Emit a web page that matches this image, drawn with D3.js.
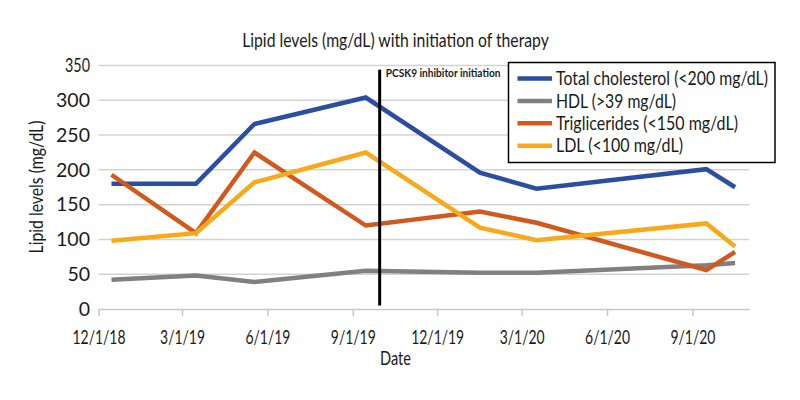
<!DOCTYPE html>
<html><head><meta charset="utf-8">
<script src="https://cdn.jsdelivr.net/npm/d3@7"></script>
<style>
body{margin:0;background:#fff;}
text{font-family:Lato,"Noto Sans",sans-serif;fill:#1a1a1a;}
</style></head>
<body><svg id="c" width="800" height="400"></svg>
<script>
const dates = ["2018-12-15","2019-03-16","2019-05-18","2019-09-15","2020-01-16","2020-03-17","2020-09-16","2020-10-17"];
const totalChol = [180, 180, 266, 304, 196, 173, 201, 175];
const hdl = [42, 48, 39, 55, 52, 52, 63, 66];
const trig = [193, 109, 225, 120, 140, 124, 56, 82];
const ldl = [98, 109, 182, 225, 117, 99, 123, 90];
const seriesNames = ["Total cholesterol (<200 mg/dL)","HDL (>39 mg/dL)","Triglicerides (<150 mg/dL)","LDL (<100 mg/dL)"];
const seriesColors = ["#2b4da2","#808080","#d2591e","#f9a819"];
const xTicks = ["2018-12-01","2019-03-01","2019-06-01","2019-09-01","2019-12-01","2020-03-01","2020-06-01","2020-09-01"];
const xDomain = ["2018-12-01","2020-11-01"];
const yTicks = [0,50,100,150,200,250,300,350];
const initiationDate = "2019-09-30";
const initiationLabel = "PCSK9 inhibitor initiation";
const title = "Lipid levels (mg/dL) with initiation of therapy";
const xTitle = "Date";
const yTitle = "Lipid levels (mg/dL)";

const parse = d3.timeParse("%Y-%m-%d");
const fmt = d3.timeFormat("%-m/%-d/%y");
const svg = d3.select("#c");
const x = d3.scaleTime().domain(xDomain.map(parse)).range([98.5, 749]);
const y = d3.scaleLinear().domain([0,350]).range([309, 65.5]);

// condensed look: squeeze a group of texts so a reference text gets a given width
function squeezeTo(sel, refWidth){
  const f = refWidth / sel.node().getComputedTextLength();
  sel.each(function(){
    const w = this.getComputedTextLength();
    d3.select(this).attr("textLength", w*f).attr("lengthAdjust","spacingAndGlyphs");
  });
}
// place a text at (tx,ty) (optional rotation) squeezed horizontally to width w
function placeText(parent, str, tx, ty, w, opts){
  opts = opts || {};
  const t = parent.append("text").attr("x",0).attr("y",0).text(str)
    .attr("font-size",opts.size||18.5)
    .attr("text-anchor",opts.anchor||"start")
    .attr("font-weight",opts.weight||null);
  const f = w / t.node().getComputedTextLength();
  t.attr("transform",`translate(${tx},${ty})${opts.rot?` rotate(${opts.rot})`:""} scale(${f},1)`);
  return t;
}

// gridlines
svg.append("g").selectAll("line").data(yTicks.filter(d=>d>0)).join("line")
  .attr("x1", x.range()[0]).attr("x2", x.range()[1])
  .attr("y1", d=>y(d)).attr("y2", d=>y(d))
  .attr("stroke","#d3d3d3").attr("stroke-width",1.5);

// x axis
const xa = svg.append("g").attr("transform",`translate(0,${y(0)})`)
  .call(d3.axisBottom(x).tickValues(xTicks.map(parse)).tickFormat(fmt).tickSize(7).tickPadding(14).tickSizeOuter(0));
xa.select(".domain").attr("stroke","#c8c8c8").attr("stroke-width",1.5);
xa.selectAll(".tick line").attr("stroke","#c8c8c8").attr("stroke-width",1.5);
xa.selectAll("text").attr("font-size",19.5).attr("font-family",null).style("fill","#1a1a1a").call(squeezeTo,53);

// y axis labels
const ya = svg.append("g").attr("transform",`translate(${x.range()[0]},0)`)
  .call(d3.axisLeft(y).tickValues(yTicks).tickSize(0).tickPadding(8.5));
ya.select(".domain").remove();
const yTexts = ya.selectAll("text").attr("font-size",19.5).attr("font-family",null).style("fill","#1a1a1a");
squeezeTo(yTexts.filter(d=>d===350).merge(yTexts), 25);

// lines
const allSeries = [totalChol, hdl, trig, ldl];
const line = d3.line().x((d,i)=>x(parse(dates[i]))).y(d=>y(d));
allSeries.forEach((s,k)=>{
  svg.append("path").datum(s).attr("d",line).attr("fill","none")
    .attr("stroke",seriesColors[k]).attr("stroke-width",4.5).attr("stroke-linejoin","miter").attr("stroke-linecap","butt");
});

// initiation line
const xi = x(parse(initiationDate));
svg.append("line").attr("x1",xi).attr("x2",xi).attr("y1",y(344)).attr("y2",y(5))
  .attr("stroke","#000").attr("stroke-width",3);
placeText(svg, initiationLabel, xi+6, y(333), 115, {size:11.5, weight:"bold"});

// title and axis titles
placeText(svg, title, 395.5, 46.5, 307, {anchor:"middle"});
placeText(svg, xTitle, 395.5, 365, 31, {anchor:"middle"});
placeText(svg, yTitle, 42.5, 187, 133, {anchor:"middle", rot:-90});

// legend
const legendWidths = [212,120,182,127];
const lg = svg.append("g");
lg.append("rect").attr("x",508.5).attr("y",62.5).attr("width",266.5).attr("height",100).attr("fill","#fff").attr("stroke","#000").attr("stroke-width",1.5);
seriesNames.forEach((n,k)=>{
  const yy = 78.5 + k*22.4;
  lg.append("line").attr("x1",517.5).attr("x2",552).attr("y1",yy).attr("y2",yy).attr("stroke",seriesColors[k]).attr("stroke-width",4.5);
  placeText(lg, n, 556, yy+6.6, legendWidths[k], {size:18.5});
});
</script></body></html>
